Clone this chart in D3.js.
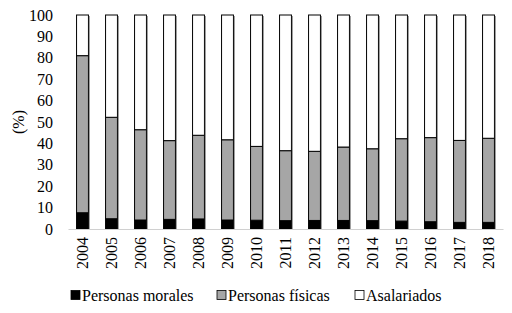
<!DOCTYPE html>
<html>
<head>
<meta charset="utf-8">
<script src="https://cdn.jsdelivr.net/npm/d3@7/dist/d3.min.js"></script>
<style>
  html, body { margin: 0; padding: 0; background: #fff; }
  svg { display: block; }
</style>
</head>
<body>
<svg id="chart" width="512" height="313"></svg>
<script>
const years = ["2004","2005","2006","2007","2008","2009","2010","2011","2012","2013","2014","2015","2016","2017","2018"];
const personasMorales = [7.6, 4.8, 4.2, 4.5, 4.7, 4.2, 4.1, 3.9, 4.0, 4.0, 3.9, 3.7, 3.4, 3.1, 3.1];
const personasFisicas = [73.4, 47.4, 42.2, 36.8, 39.1, 37.5, 34.5, 32.7, 32.3, 34.3, 33.6, 38.5, 39.3, 38.3, 39.3];
const asalariados = years.map((_, i) => +(100 - personasMorales[i] - personasFisicas[i]).toFixed(1));
const seriesNames = ["Personas morales", "Personas físicas", "Asalariados"];
const yTicks = [0, 10, 20, 30, 40, 50, 60, 70, 80, 90, 100];

const colors = ["#000000", "#a6a6a6", "#ffffff"];
const FONT = "'Liberation Serif', 'Times New Roman', 'DejaVu Serif', serif";
const FS = 16;

const svg = d3.select("#chart").attr("font-family", FONT);
const mLeft = 68, mRight = 503, mTop = 15, mBottom = 229;

const x = d3.scaleBand().domain(years).range([mLeft, mRight]).paddingInner(0.59).paddingOuter(0.295);
const y = d3.scaleLinear().domain([0, 100]).range([mBottom, mTop]);

const rows = years.map((yr, i) => ({
  year: yr,
  "Personas morales": personasMorales[i],
  "Personas físicas": personasFisicas[i],
  "Asalariados": asalariados[i]
}));
const stack = d3.stack().keys(seriesNames)(rows);

// y axis labels
const yAxis = d3.axisLeft(y).tickValues(yTicks).tickSize(0).tickPadding(15);
const gy = svg.append("g").attr("transform", `translate(${mLeft},0)`).call(yAxis)
  .attr("font-family", FONT).attr("font-size", FS);
gy.select(".domain").remove();
gy.selectAll("text").attr("fill", "#000");

// bars
stack.forEach((s, si) => {
  svg.append("g").selectAll("rect").data(s).join("rect")
    .attr("x", d => x(d.data.year))
    .attr("y", d => y(d[1]))
    .attr("width", x.bandwidth())
    .attr("height", d => y(d[0]) - y(d[1]))
    .attr("fill", colors[si])
    .attr("stroke", "#000")
    .attr("stroke-width", 1);
});
// subtle right-side shadow
svg.append("g").selectAll("line").data(years).join("line")
  .attr("x1", d => x(d) + x.bandwidth() + 1)
  .attr("x2", d => x(d) + x.bandwidth() + 1)
  .attr("y1", y(100) + 1)
  .attr("y2", y(0))
  .attr("stroke", "#9a9a9a")
  .attr("stroke-width", 1);

// x axis
const xAxis = d3.axisBottom(x).tickSize(0).tickPadding(0);
const gx = svg.append("g").attr("transform", `translate(0,${mBottom})`).call(xAxis)
  .attr("font-family", FONT).attr("font-size", FS);
gx.select(".domain").attr("stroke", "#d0d0d0").attr("stroke-width", 1.2);
gx.selectAll("text")
  .attr("fill", "#000")
  .attr("transform", "rotate(-90)")
  .attr("text-anchor", "end")
  .attr("x", -8)
  .attr("y", 0)
  .attr("dy", "0.35em");

// y label
svg.append("text")
  .attr("transform", "translate(18,122) rotate(-90)")
  .attr("text-anchor", "middle")
  .attr("dy", "0.35em")
  .attr("font-size", FS)
  .text("(%)");

// legend
const legendX = [71, 217, 355];
const lg = svg.append("g").attr("transform", "translate(0,295)").attr("font-size", FS);
seriesNames.forEach((name, i) => {
  lg.append("rect")
    .attr("x", legendX[i]).attr("y", -4.5)
    .attr("width", 9).attr("height", 9)
    .attr("fill", colors[i]).attr("stroke", "#000").attr("stroke-width", 0.8);
  lg.append("text")
    .attr("x", legendX[i] + 11).attr("y", 0)
    .attr("dy", "0.35em")
    .text(name);
});
</script>
</body>
</html>
